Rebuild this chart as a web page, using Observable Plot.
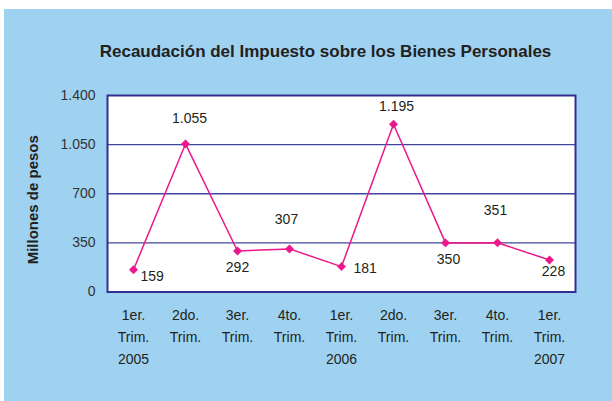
<!DOCTYPE html>
<html>
<head>
<meta charset="utf-8">
<script src="https://cdn.jsdelivr.net/npm/d3@7"></script>
<script src="https://cdn.jsdelivr.net/npm/@observablehq/plot@0.6"></script>
<style>
  html, body { margin: 0; padding: 0; background: #ffffff; }
  #chart { position: absolute; left: 4px; top: 9px; }
  #chart svg { display: block; }
</style>
</head>
<body>
<div id="chart"></div>
<script>
const title = "Recaudación del Impuesto sobre los Bienes Personales";
const yLabel = "Millones de pesos";
const periods = ["1er.\nTrim.\n2005", "2do.\nTrim.", "3er.\nTrim.", "4to.\nTrim.", "1er.\nTrim.\n2006", "2do.\nTrim.", "3er.\nTrim.", "4to.\nTrim.", "1er.\nTrim.\n2007"];
const values = [159, 1055, 292, 307, 181, 1195, 350, 351, 228];
const yTicks = [0, 350, 700, 1050, 1400];
const gridValues = [350, 700, 1050];

// label placement (layout only)
const labelPlacement = [
  {dx: 7, dy: 7, anchor: "start"},
  {dx: 4, dy: -25, anchor: "middle"},
  {dx: 0, dy: 16, anchor: "middle"},
  {dx: -3, dy: -29, anchor: "middle"},
  {dx: 12, dy: 2, anchor: "start"},
  {dx: 3, dy: -18, anchor: "middle"},
  {dx: 3, dy: 17, anchor: "middle"},
  {dx: -2, dy: -32, anchor: "middle"},
  {dx: 4, dy: 12, anchor: "middle"}
];

const data = periods.map((p, i) => ({idx: i, period: p, value: values[i]}));
const fmt = d => d3.format(",")(d).replace(/,/g, ".");

const navy = "#2e3192";
const magenta = "#ec178c";

const labelMarks = data.map((d, i) => Plot.text([d], {
  x: "idx", y: "value", text: d => fmt(d.value),
  dx: labelPlacement[i].dx, dy: labelPlacement[i].dy,
  textAnchor: labelPlacement[i].anchor,
  fontSize: 14, fill: "#231f20"
}));

const chart = Plot.plot({
  width: 608,
  height: 392,
  marginLeft: 103,
  marginRight: 37,
  marginTop: 86,
  marginBottom: 109.5,
  style: {background: "#9fd1f0", fontFamily: "'Liberation Sans', Arial, sans-serif", overflow: "visible"},
  x: {type: "point", domain: d3.range(periods.length), padding: 0.5, label: null},
  y: {domain: [0, 1400], label: null},
  marks: [
    Plot.frame({fill: "white", stroke: "none"}),
    Plot.ruleY(gridValues, {stroke: navy, strokeWidth: 1.3, strokeOpacity: 0.9}),
    Plot.frame({stroke: navy, strokeWidth: 2}),
    Plot.axisY({ticks: yTicks, tickFormat: fmt, tickSize: 0, tickPadding: 12, fontSize: 14, color: "#333", label: null}),
    Plot.axisX({tickSize: 0, tickPadding: 12, tickFormat: i => periods[i], fontSize: 14, color: "#231f20", lineHeight: 1.58, label: null}),
    Plot.line(data, {x: "idx", y: "value", stroke: magenta, strokeWidth: 1.5}),
    Plot.dot(data, {x: "idx", y: "value", symbol: "diamond2", r: 3.8, fill: magenta, stroke: magenta, strokeWidth: 0.5}),
    ...labelMarks,
    Plot.text([title], {frameAnchor: "top", dx: -16, dy: -51, fontSize: 17, fontWeight: "bold", fill: "#231f20"}),
    Plot.text([yLabel], {frameAnchor: "left", textAnchor: "middle", rotate: -90, dx: -74, dy: 6, fontSize: 15, letterSpacing: 1.1, fontWeight: "bold", fill: "#231f20"})
  ]
});
document.getElementById("chart").append(chart);
</script>
</body>
</html>
